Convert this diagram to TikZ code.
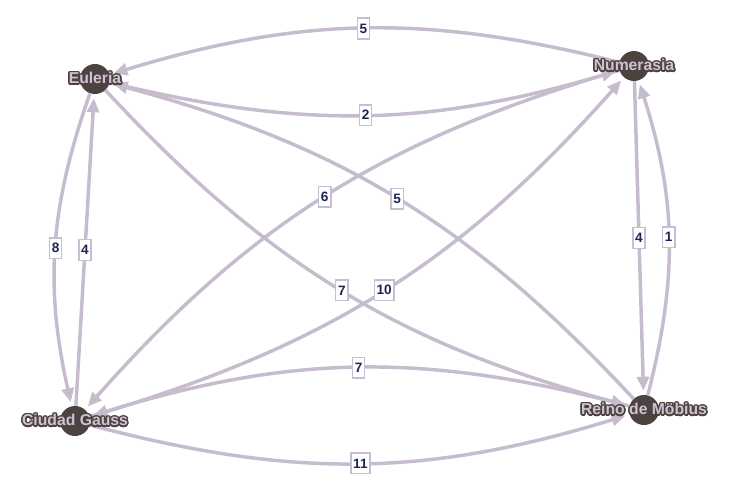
\documentclass[tikz,border=0pt]{standalone}
\usepackage{fontspec}
\setmainfont{Liberation Sans}
\usepackage[copies]{contour}
\usetikzlibrary{arrows.meta}
\definecolor{citybrown}{RGB}{76,66,64}
\definecolor{cityrose}{RGB}{206,194,212}
\definecolor{roadgray}{RGB}{198,188,206}
\definecolor{weightline}{RGB}{200,190,212}
\definecolor{weightink}{RGB}{28,36,86}
\contourlength{1.1pt}

\begin{document}
\begin{tikzpicture}[
		x=0.75pt,y=-0.75pt,
		city/.style={circle,fill=citybrown,minimum size=22.5pt,inner sep=0pt},
		cityname/.style={text=cityrose,font=\fontsize{11.8}{13}\selectfont\bfseries},
		road/.style={draw=roadgray,line width=2.6pt,shorten >=3pt,-{Triangle[length=10.5pt,width=9pt]}},
		weight/.style={draw=weightline,line width=1.1pt,fill=white,text=weightink,font=\fontsize{10.2}{11}\selectfont\bfseries,inner xsep=1.8pt,inner ysep=0pt,minimum height=15.5pt}
		]
		\useasboundingbox (0,0) rectangle (731,490);
		\node[city] (euleria) at (95,79) {};
		\node[city] (numerasia) at (634,66) {};
		\node[city] (gauss) at (75,421) {};
		\node[city] (moebius) at (644,410) {};
		\path 
		(numerasia) edge[road,bend right=15.5] node[weight] {5} (euleria)
		(euleria) edge[road,bend right=15] node[weight] {2} (numerasia)
		(euleria) edge[road,bend right=16] node[weight] {8} (gauss)
		(gauss) edge[road] node[weight] {4} (euleria)
		(numerasia) edge[road] node[weight] {4} (moebius)
		(moebius) edge[road,bend right=16] node[weight] {1} (numerasia)
		(moebius) edge[road,bend right=16] node[weight] {7} (gauss)
		(gauss) edge[road,bend right=16] node[weight] {11} (moebius)
		(numerasia) edge[road,bend right=16] node[weight] {6} (gauss)
		(gauss) edge[road,bend right=16] node[weight] {10} (numerasia)
		(euleria) edge[road,bend right=16] node[weight] {7} (moebius)
		(moebius) edge[road,bend right=16] node[weight] {5} (euleria);
		\node[cityname] at (euleria) {\contour{citybrown}{Euleria}};
		\node[cityname] at (numerasia) {\contour{citybrown}{Numerasia}};
		\node[cityname] at (gauss) {\contour{citybrown}{Ciudad Gauss}};
		\node[cityname] at (moebius) {\contour{citybrown}{Reino de Möbius}};
	\end{tikzpicture}
\end{document}
